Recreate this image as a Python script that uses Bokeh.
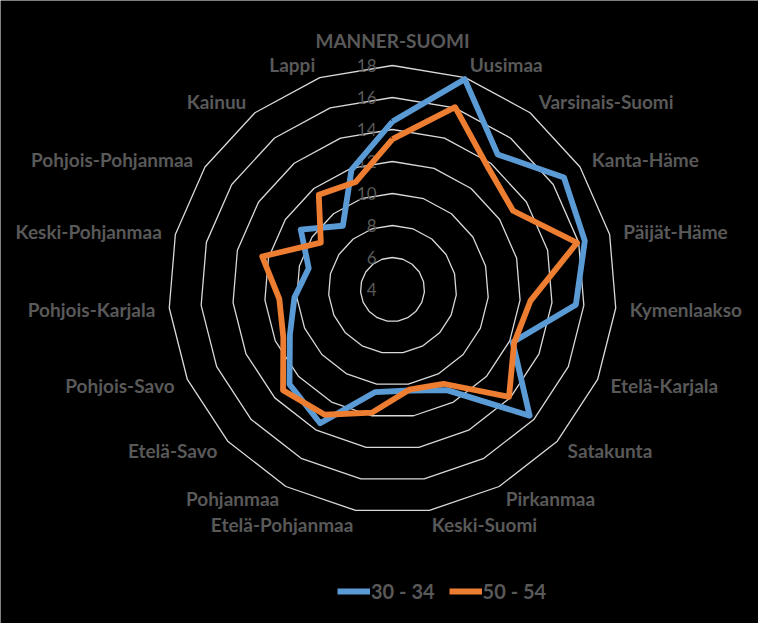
import numpy as np
from bokeh.plotting import figure
from bokeh.models import Range1d, Legend, LegendItem
from bokeh.core.properties import value
from bokeh.embed import file_html
from bokeh.resources import INLINE

categories = ["MANNER-SUOMI", "Uusimaa", "Varsinais-Suomi", "Kanta-Häme", "Päijät-Häme",
              "Kymenlaakso", "Etelä-Karjala", "Satakunta", "Pirkanmaa", "Keski-Suomi",
              "Etelä-Pohjanmaa", "Pohjanmaa", "Etelä-Savo", "Pohjois-Savo", "Pohjois-Karjala",
              "Keski-Pohjanmaa", "Pohjois-Pohjanmaa", "Kainuu", "Lappi"]
series_30_34 = [14.5, 17.9, 14.7, 16.8, 16.4, 15.5, 12.2, 15.65, 11.15, 10.4,
                10.5, 13.5, 12.75, 11.0, 10.15, 9.4, 10.85, 9.05, 11.9]
series_50_54 = [13.4, 16.05, 13.7, 13.0, 15.9, 12.65, 12.3, 13.9, 10.7, 10.35,
                11.8, 12.9, 13.3, 11.45, 11.1, 12.4, 9.35, 11.5, 11.1]
tick_values = [4, 6, 8, 10, 12, 14, 16, 18]
series_names = ["30 - 34", "50 - 54"]

VMIN = 4.0
PX = 16.0  # pixels per unit
N = len(categories)
theta = 2 * np.pi * np.arange(N) / N
FONT = "Lato"
GRAY = "#595959"

def polar(vals, close=True):
    r = (np.asarray(vals, dtype=float) - VMIN) * PX
    x = r * np.sin(theta)
    y = r * np.cos(theta)
    if close:
        x = np.append(x, x[0]); y = np.append(y, y[0])
    return list(x), list(y)

W, H = 758, 623
CX, CY = 392, 289
p = figure(width=W, height=H, output_backend="svg", toolbar_location=None,
           x_range=Range1d(-CX, W - CX), y_range=Range1d(-(H - CY), CY),
           background_fill_color="black", border_fill_color="black",
           outline_line_color=None, min_border=0)
p.axis.visible = False
p.grid.visible = False

# rings
rx, ry = [], []
for t in tick_values[1:]:
    x, y = polar([t] * N)
    rx.append(x); ry.append(y)
p.multi_line(rx, ry, line_color="#d9d9d9", line_width=1.3)

# tick labels
p.text(x=[-16] * len(tick_values), y=[(t - VMIN) * PX for t in tick_values],
       text=[str(t) for t in tick_values], text_align="right", text_baseline="middle",
       text_color=GRAY, text_font=value(FONT), text_font_size="17px")

# category labels
RL = 238
lx, ly, ltxt, aligns, bases = [], [], [], [], []
for k, c in enumerate(categories):
    s, co = np.sin(theta[k]), np.cos(theta[k])
    lx.append(RL * s); ly.append(RL * co); ltxt.append(c)
    if k == 0:
        aligns.append("center"); bases.append("bottom")
    elif s > 0:
        aligns.append("left"); bases.append("middle")
    else:
        aligns.append("right"); bases.append("middle")
for a in ("center", "left", "right"):
    idx = [i for i in range(N) if aligns[i] == a]
    p.text(x=[lx[i] for i in idx], y=[ly[i] for i in idx], text=[ltxt[i] for i in idx],
           text_align=a, text_baseline=bases[idx[0]], text_color=GRAY,
           text_font=value(FONT), text_font_size="19px", text_font_style="bold")

# series
bx, by = polar(series_30_34)
ox, oy = polar(series_50_54)
r1 = p.line(bx, by, line_color="#5b9bd5", line_width=5.8, line_join="round")
r2 = p.line(ox, oy, line_color="#ed7d31", line_width=5.8, line_join="round")

legend = Legend(items=[LegendItem(label=series_names[0], renderers=[r1]),
                       LegendItem(label=series_names[1], renderers=[r2])],
                orientation="horizontal", location=(337, 20),
                background_fill_color="black", background_fill_alpha=1.0,
                border_line_color=None, label_text_color=GRAY,
                label_text_font=FONT, label_text_font_size="20px",
                label_text_font_style="bold",
                glyph_width=33, glyph_height=20, label_standoff=1, spacing=14,
                padding=0, margin=0)
p.add_layout(legend)

open("out.html", "w").write(file_html(p, INLINE))
